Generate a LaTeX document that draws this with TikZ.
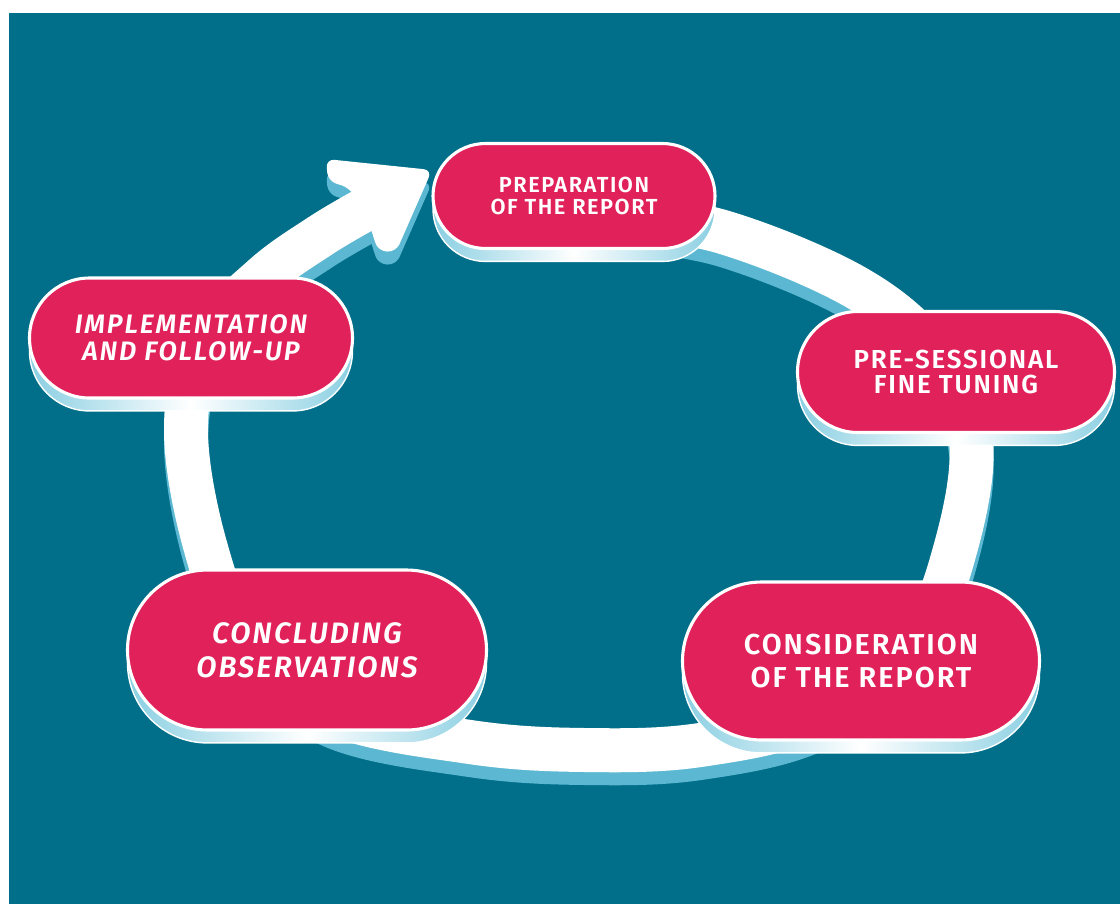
\documentclass[tikz,border=0pt]{standalone}
\usepackage{fontspec}
\setsansfont{Fira Sans}
\newfontfamily\stagefont{Fira Sans}[LetterSpace=7,
  BoldFont={* SemiBold}, BoldItalicFont={* SemiBold Italic}]
\usetikzlibrary{shapes.misc,shadows,positioning}
\definecolor{bgteal}{HTML}{016F8A}
\definecolor{pillred}{HTML}{E0215A}
\definecolor{ringblue}{HTML}{5CB8D2}
\definecolor{baseblue}{HTML}{8ACFE2}
\newdimen\pxu \pxu=0.025cm
\tikzset{
  every node/.append style={font=\stagefont\bfseries},
  pill/.style={rounded rectangle, fill=pillred, draw=white, line width=2.2pt,
    text=white, align=center, inner sep=0pt,
    general shadow={shadow yshift=-9.2pt, draw=white, line width=1pt,
      left color=baseblue, right color=baseblue, middle color=white}},
  ring/.style={line width=44\pxu, line cap=butt},
}

\begin{document}
\begin{tikzpicture}[x=0.025cm, y=-0.025cm]

% --- Canvas ---
\fill[white] (0,0) rectangle (1120,904);
\fill[bgteal] (9,13) rectangle (1120,904);
\useasboundingbox (0,0) rectangle (1120,904);

% --- Ring with arrow (shade first, then white top) ---
\foreach \dy/\col in {13/ringblue, 0/white} {
  \draw[ring, draw=\col, shift={(0,\dy)}] plot[smooth, tension=0.6] coordinates {
    (610,214) (723,232) (857,288) (935,355) (971,440) (955,550) (915,640)
    (820,715) (700,745) (585,750) (470,742) (330,712) (245,640) (205,545)
    (186,430) (205,340) (263,277) (320,236) (364,210)};
  \fill[\col, shift={(0,\dy)}, rounded corners=6pt]
    (326,159) -- (432,170) -- (396,252) -- (378,251) -- (368,220)
    -- (350,188) -- (328,181) -- cycle;
}

% --- Stages ---
\node[pill, minimum width=282\pxu, minimum height=105\pxu,
  font=\stagefont\bfseries\fontsize{15.5}{16}\selectfont]
  (prep) at (574,196) {PREPARATION\\OF THE REPORT};

\node[pill, minimum width=317\pxu, minimum height=121\pxu,
  font=\stagefont\bfseries\fontsize{18.5}{18}\selectfont]
  (presess) at (956,372) {PRE-SESSIONAL\\FINE TUNING};

\node[pill, minimum width=357\pxu, minimum height=158\pxu,
  font=\stagefont\bfseries\fontsize{20.5}{23}\selectfont]
  (consid) at (861,661) {CONSIDERATION\\OF THE REPORT};

\node[pill, minimum width=359\pxu, minimum height=160\pxu,
  font=\stagefont\bfseries\itshape\fontsize{21}{24}\selectfont]
  (concl) at (307,650) {CONCLUDING\\OBSERVATIONS};

\node[pill, minimum width=323\pxu, minimum height=120\pxu,
  font=\stagefont\bfseries\itshape\fontsize{19}{19}\selectfont]
  (impl) at (191,338) {IMPLEMENTATION\\AND FOLLOW-UP};

\end{tikzpicture}
\end{document}
